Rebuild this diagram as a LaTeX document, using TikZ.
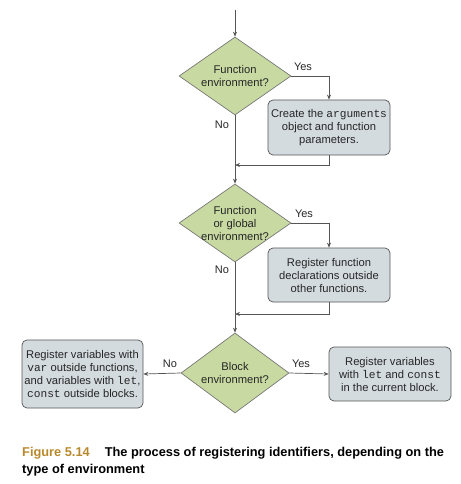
\documentclass[tikz,border=0pt]{standalone}
\usepackage{fontspec}
\setmainfont{Liberation Sans}
\setmonofont{Liberation Mono}
\usetikzlibrary{shapes.geometric,arrows.meta}
\definecolor{diafill}{HTML}{C8DAA2}
\definecolor{boxfill}{HTML}{D4DBDF}
\definecolor{linecol}{HTML}{555555}
\definecolor{figgold}{HTML}{B8892C}
\begin{document}
\begin{tikzpicture}[x=1pt,y=-1pt,
  dia/.style={diamond,draw=linecol!80,fill=diafill,line width=0.7pt,inner sep=0pt,minimum width=112pt,minimum height=78pt},
  txt/.style={align=center,font=\fontsize{11.2}{13}\selectfont,text=black!85,inner sep=0pt},
  procbox/.style={draw=linecol,fill=boxfill,line width=0.7pt,rounded corners=5pt,align=center,font=\fontsize{11.2}{13}\selectfont,text=black!85,inner sep=0pt,minimum width=122pt},
  conn/.style={draw=linecol,line width=0.7pt,-{Stealth[length=5pt,width=4pt]}},
  plain/.style={draw=linecol,line width=0.7pt},
  lab/.style={font=\fontsize{11}{13}\selectfont,text=black!85,inner sep=0pt}]
\useasboundingbox (0,0) rectangle (460,484);
\coordinate (start) at (235,10);
\node[dia,label={[txt]center:Function\\environment?}] (d1) at (235,76) {};
\node[procbox,minimum height=55pt] (b1) at (329,127.5) {Create the \texttt{arguments}\\object and function\\parameters.};
\node[dia,label={[txt]center:Function\\or global\\environment?}] (d2) at (235,223) {};
\node[procbox,minimum height=54pt] (b2) at (329,275) {Register function\\declarations outside\\other functions.};
\node[dia,minimum width=108pt,minimum height=80pt,label={[txt]center:Block\\environment?}] (d3) at (235,373) {};
\node[procbox,minimum width=121pt,minimum height=68pt] (b3) at (82.5,374) {Register variables with\\\texttt{var} outside functions,\\and variables with \texttt{let},\\\texttt{const} outside blocks.};
\node[procbox,minimum height=54pt] (b4) at (390,374) {Register variables\\with \texttt{let} and \texttt{const}\\in the current block.};
\coordinate (m1) at (235,165);
\coordinate (m2) at (235,314);
\draw[conn] (start) -- (d1.north);
\draw[conn] (d1.east) -| (b1.north);
\draw[plain] (d1.south) -- (m1);
\draw[conn] (m1) -- (d2.north);
\draw[conn] (b1.south) |- (m1);
\draw[conn] (d2.east) -| (b2.north);
\draw[plain] (d2.south) -- (m2);
\draw[conn] (m2) -- (d3.north);
\draw[conn] (b2.south) |- (m2);
\draw[conn] (d3.west) -- (b3.east);
\draw[conn] (d3.east) -- (b4.west);
\node[lab] (y1) at (303,67) {Yes};
\node[lab] (n1) at (222,125) {No};
\node[lab] (y2) at (304,214) {Yes};
\node[lab] (n2) at (222,270) {No};
\node[lab] (n3) at (170,364) {No};
\node[lab] (y3) at (301,364) {Yes};
\node[anchor=base west,inner sep=0pt,font=\fontsize{12.8}{15}\bfseries] (cap1) at (22,456) {\textcolor{figgold}{Figure 5.14}\hspace{15pt}The process of registering identifiers, depending on the};
\node[anchor=base west,inner sep=0pt,font=\fontsize{12.8}{15}\bfseries] (cap2) at (22,473) {type of environment};
\end{tikzpicture}
\end{document}
